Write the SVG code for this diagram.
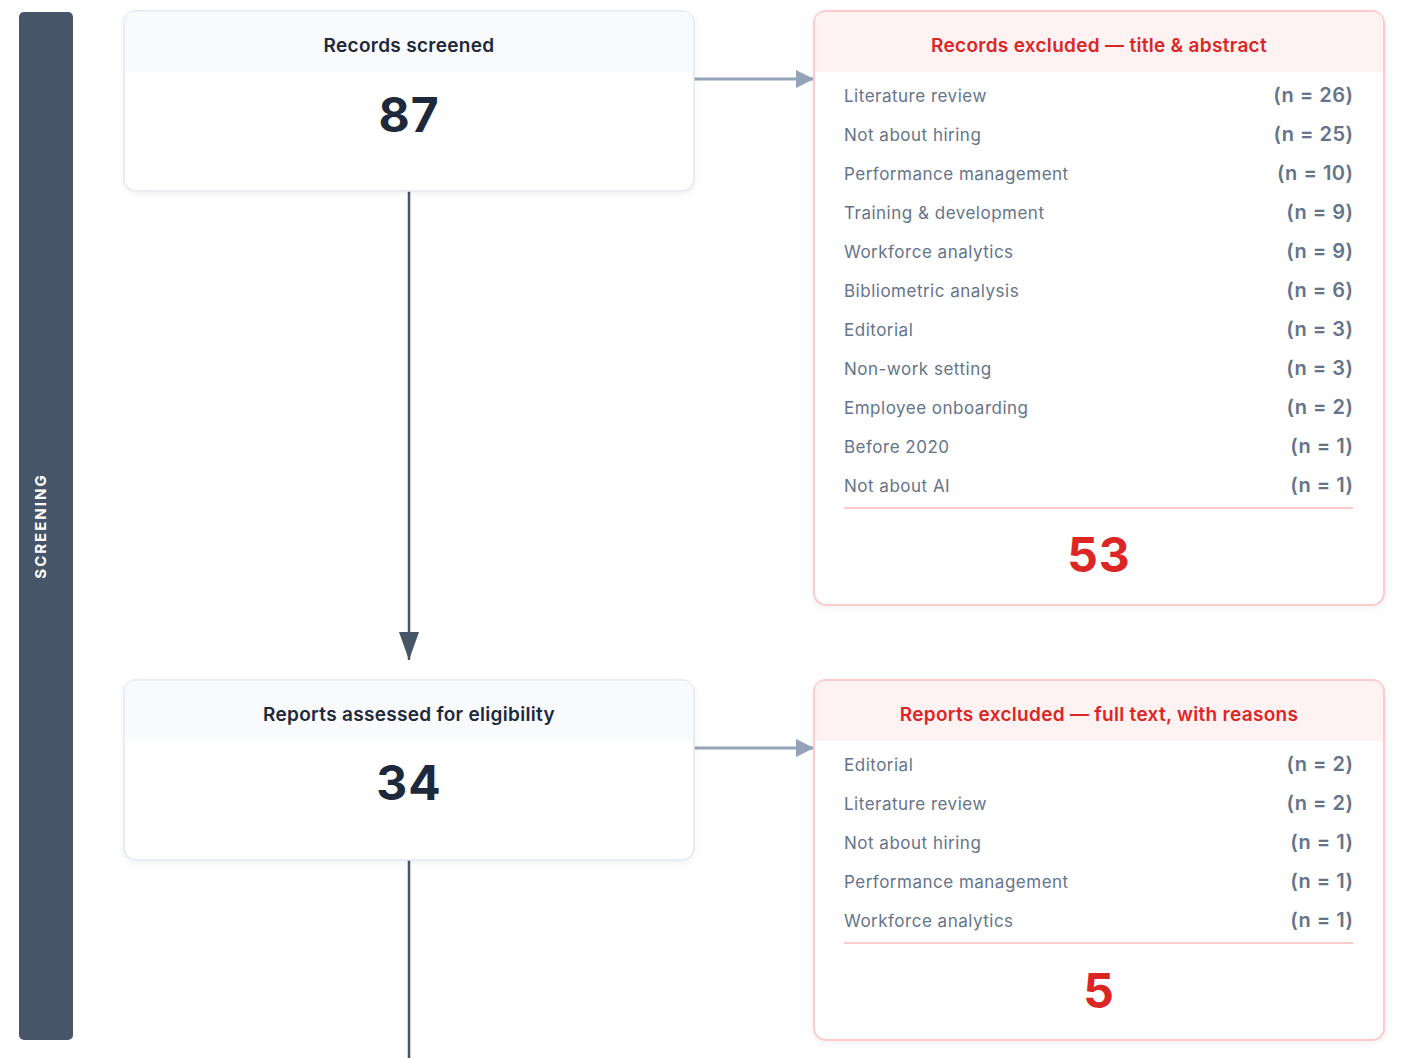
<svg xmlns="http://www.w3.org/2000/svg" width="1403" height="1058" viewBox="0 0 1403 1058">
<defs>
<style>
.lbl{font-family:Inter,"Liberation Sans",sans-serif;font-size:17px;letter-spacing:0.5px;fill:#64748b}
.cnt{font-family:Inter,"Liberation Sans",sans-serif;font-size:20px;font-weight:600;letter-spacing:0.5px;fill:#64748b;text-anchor:end}
.ttl{font-family:Inter,"Liberation Sans",sans-serif;font-size:19px;font-weight:600;letter-spacing:0.3px;text-anchor:middle}
.num{font-family:Inter,"Liberation Sans",sans-serif;font-size:48px;font-weight:700;letter-spacing:1px;text-anchor:middle}
.gbox{fill:#ffffff;stroke:#e2e8f0;stroke-width:1.5}
.rbox{fill:#ffffff;stroke:#fecaca;stroke-width:2}
.sep{stroke:#fecaca;stroke-width:2}
</style>
<filter id="sh" x="-10%" y="-10%" width="120%" height="130%">
<feDropShadow dx="0" dy="2" stdDeviation="3" flood-color="#0f172a" flood-opacity="0.06"/>
</filter>
<marker id="ah" viewBox="0 0 10 10" refX="10" refY="5" markerWidth="18" markerHeight="18" markerUnits="userSpaceOnUse" orient="auto">
<path d="M0,0 L10,5 L0,10 Z" fill="#94a3b8"/>
</marker>
<marker id="av" viewBox="0 0 10 14" refX="5" refY="14" markerWidth="20" markerHeight="28" markerUnits="userSpaceOnUse" orient="0">
<path d="M0,0 L10,0 L5,14 Z" fill="#475569"/>
</marker>
</defs>
<rect width="1403" height="1058" fill="#ffffff"/>

<g id="phase">
<rect x="19" y="12" width="54" height="1028" rx="5" fill="#475569"/>
<text transform="translate(46,526) rotate(-90)" text-anchor="middle" font-family="Inter,'Liberation Sans',sans-serif" font-size="15" font-weight="700" letter-spacing="2" fill="#ffffff">SCREENING</text>
</g>

<g id="connectors">
<line x1="694" y1="79" x2="814" y2="79" stroke="#94a3b8" stroke-width="3" marker-end="url(#ah)"/>
<line x1="694" y1="748" x2="814" y2="748" stroke="#94a3b8" stroke-width="3" marker-end="url(#ah)"/>
<line x1="409" y1="191" x2="409" y2="660" stroke="#475569" stroke-width="2.5" marker-end="url(#av)"/>
<line x1="409" y1="860" x2="409" y2="1058" stroke="#475569" stroke-width="2.5"/>
</g>

<g id="screened">
<rect class="gbox" x="124" y="11" width="570" height="180" rx="12" filter="url(#sh)"/>
<path d="M124.75,72 V23 Q124.75,11.75 136,11.75 H682 Q693.25,11.75 693.25,23 V72 Z" fill="#f8fafc"/>
<text class="ttl" x="409" y="52" fill="#1e293b">Records screened</text>
<text class="num" x="409" y="132" fill="#1e293b">87</text>
</g>

<g id="excluded1">
<rect class="rbox" x="814" y="11" width="570" height="594" rx="12" filter="url(#sh)"/>
<path d="M815,72 V23 Q815,12 826,12 H1372 Q1383,12 1383,23 V72 Z" fill="#fef2f2"/>
<text class="ttl" x="1099" y="52" fill="#dc2626">Records excluded — title &amp; abstract</text>
<text class="lbl" x="844" y="102">Literature review</text><text class="cnt" x="1353.5" y="102">(n = 26)</text>
<text class="lbl" x="844" y="141">Not about hiring</text><text class="cnt" x="1353.5" y="141">(n = 25)</text>
<text class="lbl" x="844" y="180">Performance management</text><text class="cnt" x="1353.5" y="180">(n = 10)</text>
<text class="lbl" x="844" y="219">Training &amp; development</text><text class="cnt" x="1353.5" y="219">(n = 9)</text>
<text class="lbl" x="844" y="258">Workforce analytics</text><text class="cnt" x="1353.5" y="258">(n = 9)</text>
<text class="lbl" x="844" y="297">Bibliometric analysis</text><text class="cnt" x="1353.5" y="297">(n = 6)</text>
<text class="lbl" x="844" y="336">Editorial</text><text class="cnt" x="1353.5" y="336">(n = 3)</text>
<text class="lbl" x="844" y="375">Non-work setting</text><text class="cnt" x="1353.5" y="375">(n = 3)</text>
<text class="lbl" x="844" y="414">Employee onboarding</text><text class="cnt" x="1353.5" y="414">(n = 2)</text>
<text class="lbl" x="844" y="453">Before 2020</text><text class="cnt" x="1353.5" y="453">(n = 1)</text>
<text class="lbl" x="844" y="492">Not about AI</text><text class="cnt" x="1353.5" y="492">(n = 1)</text>
<line class="sep" x1="844" y1="508" x2="1353" y2="508"/>
<text class="num" x="1099" y="572" fill="#dc2626">53</text>
</g>

<g id="assessed">
<rect class="gbox" x="124" y="680" width="570" height="180" rx="12" filter="url(#sh)"/>
<path d="M124.75,741 V692 Q124.75,680.75 136,680.75 H682 Q693.25,680.75 693.25,692 V741 Z" fill="#f8fafc"/>
<text class="ttl" x="409" y="721" fill="#1e293b">Reports assessed for eligibility</text>
<text class="num" x="409" y="800" fill="#1e293b">34</text>
</g>

<g id="excluded2">
<rect class="rbox" x="814" y="680" width="570" height="360" rx="12" filter="url(#sh)"/>
<path d="M815,741 V692 Q815,681 826,681 H1372 Q1383,681 1383,692 V741 Z" fill="#fef2f2"/>
<text class="ttl" x="1099" y="721" fill="#dc2626">Reports excluded — full text, with reasons</text>
<text class="lbl" x="844" y="771">Editorial</text><text class="cnt" x="1353.5" y="771">(n = 2)</text>
<text class="lbl" x="844" y="810">Literature review</text><text class="cnt" x="1353.5" y="810">(n = 2)</text>
<text class="lbl" x="844" y="849">Not about hiring</text><text class="cnt" x="1353.5" y="849">(n = 1)</text>
<text class="lbl" x="844" y="888">Performance management</text><text class="cnt" x="1353.5" y="888">(n = 1)</text>
<text class="lbl" x="844" y="927">Workforce analytics</text><text class="cnt" x="1353.5" y="927">(n = 1)</text>
<line class="sep" x1="844" y1="943" x2="1353" y2="943"/>
<text class="num" x="1099" y="1008" fill="#dc2626">5</text>
</g>
</svg>
